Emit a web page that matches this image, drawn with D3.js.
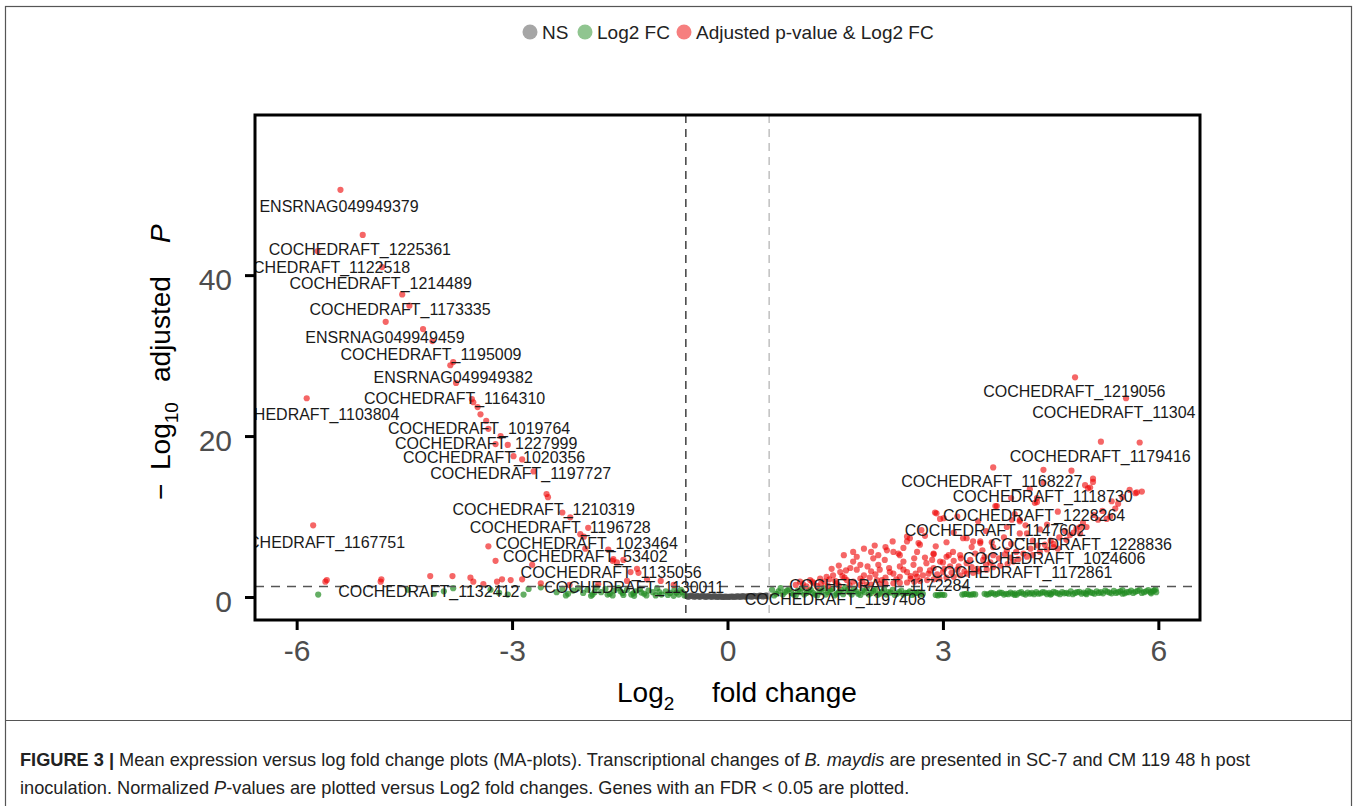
<!DOCTYPE html>
<html><head><meta charset="utf-8">
<script src="https://cdn.jsdelivr.net/npm/d3@7"></script>
<style>body{margin:0;background:#fff;} svg{display:block;font-family:"Liberation Sans",Arial,sans-serif;}</style>
</head><body>
<script>
// ---- data ----
const legendLabels = ["NS", "Log2 FC", "Adjusted p-value & Log2 FC"];
const xTicks = [-6, -3, 0, 3, 6];
const yTicks = [0, 20, 40];
const fcCutoff = 0.58;
const pCutoff = 1.3;

// NS points [log2FC, -log10 padj]
const nsPoints = [[-0.57,0.12],[-0.55,0.02],[-0.53,0.08],[-0.51,0.18],[-0.49,0.15],[-0.47,0.03],[-0.45,0.05],[-0.43,0.14],[-0.41,0.1],[-0.39,0.02],[-0.37,0.06],[-0.35,0.15],[-0.33,0.12],[-0.31,0.01],[-0.29,0.04],[-0.27,0.11],[-0.25,0.09],[-0.23,0.02],[-0.21,0.03],[-0.19,0.1],[-0.17,0.08],[-0.15,0.01],[-0.13,0.02],[-0.11,0.07],[-0.09,0.05],[-0.07,0.01],[-0.05,0.01],[-0.03,0.04],[-0.01,0.03],[0.01,0.01],[0.03,0.02],[0.05,0.06],[0.07,0.05],[0.09,0.01],[0.11,0.03],[0.13,0.08],[0.15,0.07],[0.17,0.02],[0.19,0.04],[0.21,0.1],[0.23,0.09],[0.25,0.03],[0.27,0.05],[0.29,0.12],[0.31,0.1],[0.33,0.04],[0.35,0.06],[0.37,0.13],[0.39,0.12],[0.41,0.05],[0.43,0.08],[0.45,0.16],[0.47,0.14],[0.49,0.06],[0.51,0.1],[0.53,0.18],[0.55,0.16],[0.57,0.08]];

// log2FC-only points
const fcPoints = [[-5.70,0.3],[-4.09,0.4],[-3.82,1.1],[-3.06,0.3],[-2.84,0.3],[-2.77,1.0],[-2.60,1.2],[-4.45,0.9],[-3.95,0.7],[-3.30,0.9],[-3.18,0.5],
[-2.38,0.6],[-2.30,1.0],[-2.22,0.4],[-2.15,0.8],[-2.08,1.1],[-2.01,0.5],[-1.95,0.9],[-1.88,0.3],[-1.82,1.2],[-1.76,0.6],[-1.70,1.0],[-1.64,0.4],[-1.58,0.8],[-1.52,1.1],[-1.46,0.5],[-1.40,0.9],[-1.34,0.3],[-1.28,0.7],[-1.22,1.0],[-1.16,0.4],[-1.10,0.8],[-1.04,0.6],[-0.98,1.1],[-0.92,0.3],[-0.86,0.7],[-0.80,0.5],[-0.74,0.9],[-0.68,0.3],[-0.63,0.6],[-0.60,0.2],[-1.9,0.15],[-1.6,0.2],[-1.3,0.15],[-1.0,0.2],[-0.75,0.15],
[-1.85,0.6],[-1.67,0.3],[-1.49,0.7],[-1.31,0.45],[-1.13,0.2],[-0.95,0.6],[-0.83,0.25],[-0.71,0.55],[-0.65,0.9],[-1.2,0.55],[-1.45,0.25],[-2.25,0.2],
[0.62,0.9],[0.68,0.4],[0.74,1.1],[0.80,0.6],[0.86,1.0],[0.92,0.3],[0.98,0.8],[1.04,1.1],[1.10,0.5],[1.16,0.9],[1.22,0.3],[1.28,0.8],[1.34,1.1],[1.40,0.6],[1.46,1.0],[1.52,0.4],[1.58,0.9],[1.64,1.2],[1.70,0.6],[1.76,1.0],[1.82,0.4],[1.88,0.8],[1.94,1.1],[2.00,0.5],[2.06,0.9],[2.12,0.4],[2.18,1.0],[2.24,0.6],[2.30,0.9],[2.36,0.4],[2.42,0.8],[2.48,0.5],[2.54,0.7],[2.60,0.4],[2.66,0.6],[2.72,0.4],
[0.65,0.2],[0.71,0.7],[0.77,0.3],[0.83,0.8],[0.89,0.5],[0.95,0.2],[1.01,0.6],[1.07,0.3],[1.13,0.7],[1.19,0.5],[1.25,0.2],[1.31,0.6],[1.37,0.3],[1.43,0.8],[1.49,0.2],[1.55,0.6],[1.61,0.35],[1.67,0.85],[1.73,0.3],[1.79,0.7],[1.85,0.25],[1.91,0.6],[1.97,0.3],[2.03,0.75],[2.09,0.25],[2.15,0.65],[2.21,0.3],[2.27,0.55],[2.33,0.25],[2.39,0.6],[2.45,0.3],[2.51,0.5],[2.57,0.25],[2.63,0.5],[2.69,0.3],
[2.90,0.25],[2.96,0.3],[3.02,0.25],[3.30,0.35],[3.36,0.3],[3.42,0.35],[3.58,0.4],[3.64,0.35],[3.70,0.45],[3.76,0.4],[3.82,0.5],[3.88,0.4],[3.94,0.55],[4.00,0.45],[4.06,0.5],[4.12,0.4],[4.18,0.55],[4.24,0.5],[4.30,0.6],[4.36,0.45],[4.42,0.55],[4.48,0.5],[4.54,0.65],[4.60,0.45],[4.66,0.6],[4.72,0.5],[4.78,0.7],[4.84,0.5],[4.90,0.65],[4.96,0.55],[5.02,0.75],[5.08,0.5],[5.14,0.7],[5.20,0.6],[5.26,0.8],[5.32,0.55],[5.38,0.75],[5.44,0.6],[5.50,0.85],[5.56,0.6],[5.62,0.8],[5.68,0.65],[5.74,0.9],[5.80,0.6],[5.86,0.85],[5.92,0.7],[5.96,0.95],[4.5,0.3],[5.0,0.35],[5.5,0.4],[5.9,0.45],[4.0,0.25],
[2.93,0.2],[2.99,0.28],[3.27,0.3],[3.33,0.38],[3.39,0.28],[3.45,0.32],[3.61,0.3],[3.67,0.5],[3.73,0.3],[3.79,0.55],[3.85,0.3],[3.91,0.35],[3.97,0.4],[4.03,0.3],[4.09,0.6],[4.15,0.3],[4.21,0.4],[4.27,0.35],[4.33,0.4],[4.39,0.6],[4.45,0.35],[4.51,0.4],[4.57,0.55],[4.63,0.35],[4.69,0.45],[4.75,0.4],[4.81,0.35],[4.87,0.6],[4.93,0.4],[4.99,0.45],[5.05,0.6],[5.11,0.4],[5.17,0.5],[5.23,0.45],[5.29,0.65],[5.35,0.45],[5.41,0.5],[5.47,0.7],[5.53,0.45],[5.59,0.6],[5.65,0.5],[5.71,0.75],[5.77,0.5],[5.83,0.7],[5.89,0.6],[5.94,0.8],[5.97,0.6]];

// adjusted p-value & log2FC points
const sigPoints = [
[-5.39,50.6],[-5.08,45.0],[-5.71,43.0],[-4.81,41.0],[-4.53,37.6],[-4.43,36.2],[-4.76,34.2],[-4.24,33.3],[-4.11,31.8],[-3.86,28.8],[-3.82,29.2],[-3.78,26.6],[-5.86,24.7],[-3.56,24.6],[-3.54,24.2],[-3.48,23.6],[-3.44,22.7],[-3.36,21.9],[-3.33,20.9],[-3.16,20.0],[-3.23,19.0],[-3.06,18.9],[-2.98,17.5],[-2.86,17.1],[-2.70,15.6],[-2.52,12.8],[-2.50,12.4],[-2.30,10.5],[-2.19,9.9],[-5.77,8.9],[-1.94,8.6],[-2.05,7.8],[-2.00,7.5],[-3.33,6.3],[-1.98,6.0],[-1.66,5.9],[-3.23,4.5],[-1.59,4.7],[-1.45,4.6],[-2.72,4.0],[-1.54,4.3],[-1.26,3.5],[-1.24,3.0],[-5.58,2.1],[-5.60,1.9],[-4.82,2.2],[-4.83,1.9],[-4.14,2.6],[-3.83,2.6],[-3.58,2.4],[-3.54,1.9],[-3.40,1.6],[-3.21,1.9],[-3.14,2.2],[-3.02,2.1],[-2.86,2.2],[-2.60,1.7],[-1.40,2.0],[-1.12,2.2],[-0.93,2.0],[-1.35,3.1],[-1.60,4.5],[-1.80,1.6],[-2.2,1.5],[-0.75,1.5],
[4.84,27.3],[5.55,24.7],[5.20,19.3],[5.74,19.2],[3.70,16.1],[4.40,15.8],[4.79,15.7],[5.09,14.7],[4.98,13.9],[5.05,13.6],[4.40,14.2],[4.21,13.4],[5.70,13.0],[5.77,13.1],[4.31,11.8],[3.75,11.3],[5.44,11.6],[5.40,11.0],[2.89,10.5],[2.96,9.7],[5.33,10.0],[5.28,9.7],[3.49,9.4],[3.96,9.6],[4.07,9.4],[4.86,8.5],[4.91,8.7],[4.77,7.7],[2.50,7.5],[2.66,6.7],[3.28,7.3],[3.42,6.9],[3.52,6.7],[4.07,7.9],[4.17,7.9],[4.54,6.6],[2.22,5.8],[2.38,5.4],[2.87,5.3],[3.08,5.2],
[5.68,12.9],[5.16,9.6],[5.00,8.7],[4.91,7.9],[4.72,7.1],[4.54,6.2],[4.35,5.6],[4.17,5.0],[3.98,4.4],[3.80,3.9],[3.61,3.4],[3.42,3.0],[3.24,2.7],[3.05,2.4],[2.87,2.2],[2.68,2.0],[2.50,1.8],[2.31,1.7],[2.12,1.6],[1.94,1.5],
[4.60,6.0],[4.45,5.9],[4.25,5.2],[4.05,4.7],[3.90,4.1],[3.70,3.7],[3.50,3.2],[3.33,2.9],[3.15,2.5],[2.95,2.3],[2.78,2.1],[2.60,1.9],[2.40,1.75],[2.20,1.65],[2.00,1.55],[1.85,1.5],[1.70,1.45],[1.55,1.4],[1.40,1.38],[1.25,1.35],[1.10,1.33],
[2.91,10.4],[3.01,9.8],[3.73,11.3],[4.28,11.7],[4.31,12.3],[5.02,13.5],[5.09,14.3],[4.07,9.6],[3.89,8.7],[3.52,6.9],[3.33,7.3],[2.68,6.5],[2.50,6.9],[2.54,7.3],[2.31,5.6],[2.40,5.2],[2.64,5.6],[2.87,5.4],[3.05,5.0],[3.14,5.6],[3.24,5.2],[2.96,4.4],[2.77,4.2],[2.59,4.0],[2.40,3.8],[2.19,4.6],[2.03,4.8],[1.95,3.8],[1.75,4.4],[1.71,3.6],[1.80,3.4],[1.57,3.1],[1.47,2.7],[1.38,2.5],[1.29,2.3],[1.15,2.1],[1.01,1.9],[2.12,3.4],[2.31,2.9],[2.50,3.1],[2.68,3.4],[2.87,3.6],[3.10,3.8],[3.33,4.2],[3.56,4.6],[3.70,5.2],[3.70,6.2],[3.89,5.8],[2.08,2.1],[1.85,2.3],[1.66,2.1],[2.40,2.5],[2.64,2.5],
[1.90,6.0],[2.05,6.4],[2.30,6.9],[2.75,7.6],[2.70,8.3],[3.15,8.0],[3.60,8.2],[3.85,7.4],[4.00,10.3],[4.45,9.0],[4.60,10.6],[3.20,10.0],[3.95,12.3],[1.60,2.6],[1.20,1.7],[0.95,1.5],[1.35,1.9],[1.50,2.0],[1.90,2.7],[2.20,2.4],[2.55,2.6],[2.80,2.9],[3.00,3.1],[3.20,3.4],[3.40,3.7],[3.60,4.0],[1.62,5.2],[1.80,5.0],[2.10,5.2],
[1.05,1.6],[1.18,1.9],[1.30,1.6],[1.42,2.2],[1.52,1.7],[1.63,2.4],[1.75,1.9],[1.88,2.0],[1.98,2.4],[2.06,2.8],[2.15,2.1],[2.26,3.1],[2.35,2.2],[2.45,3.4],[2.55,2.3],[2.62,2.9],[2.72,2.7],[2.82,3.3],[2.92,2.8],[3.02,3.5],[3.12,3.0],[3.22,3.8],[3.30,3.2],[3.38,4.6],[3.48,3.5],[3.58,5.0],[3.66,4.3],[3.78,4.8],[3.86,5.3],[3.94,4.9],[4.02,5.6],[4.12,5.4],[4.22,6.0],[4.32,6.4],[4.42,6.5],[4.50,7.0],[4.62,7.4],[4.70,8.2],[4.82,8.0],[4.95,9.2],[5.10,10.2],[5.22,10.7],[5.35,11.9],[5.50,12.4],[5.60,13.3],
[1.45,3.5],[1.55,3.9],[1.65,3.3],[1.85,4.0],[2.00,3.2],[2.10,4.0],[2.25,3.6],[2.45,4.4],[2.60,4.8],[2.75,4.9],[2.85,4.6],[3.00,4.3],[3.15,4.5],[3.25,4.8],[3.45,5.4],[3.55,5.8],[2.20,6.2],[2.45,6.1],[2.90,6.3],[3.05,6.8],[3.40,6.2],[3.68,6.8],[3.95,6.6],[4.25,7.0],[4.35,8.4],[4.15,8.9],[1.75,5.6],[2.00,5.6]];

const labelNames = ["ENSRNAG049949379","COCHEDRAFT_1225361","COCHEDRAFT_1122518","COCHEDRAFT_1214489","COCHEDRAFT_1173335","ENSRNAG049949459","COCHEDRAFT_1195009","ENSRNAG049949382","COCHEDRAFT_1164310","COCHEDRAFT_1103804","COCHEDRAFT_1019764","COCHEDRAFT_1227999","COCHEDRAFT_1020356","COCHEDRAFT_1197727","COCHEDRAFT_1210319","COCHEDRAFT_1196728","COCHEDRAFT_1167751","COCHEDRAFT_1023464","COCHEDRAFT_53402","COCHEDRAFT_1135056","COCHEDRAFT_1132412","COCHEDRAFT_1130011","COCHEDRAFT_1219056","COCHEDRAFT_11304","COCHEDRAFT_1179416","COCHEDRAFT_1168227","COCHEDRAFT_1118730","COCHEDRAFT_1228264","COCHEDRAFT_1147602","COCHEDRAFT_1228836","COCHEDRAFT_1024606","COCHEDRAFT_1172861","COCHEDRAFT_1172284","COCHEDRAFT_1197408"];
const labelX = [-5.41,-5.12,-5.68,-4.83,-4.56,-4.77,-4.13,-3.82,-3.80,-5.83,-3.46,-3.36,-3.25,-2.88,-2.56,-2.33,-5.75,-1.96,-1.98,-1.62,-4.16,-1.30,4.83,5.38,5.19,3.68,4.39,4.27,3.73,4.92,4.55,4.10,2.12,1.50];
const labelY = [48.6,43.2,41.0,39.0,35.7,32.3,30.1,27.3,24.7,22.7,21.0,19.1,17.3,15.3,10.9,8.7,6.8,6.7,5.0,3.0,0.75,1.24,25.6,23.0,17.5,14.4,12.5,10.1,8.3,6.5,4.8,3.1,1.5,-0.25];

// ---- drawing ----
const W = 1357, H = 806;
const svg = d3.select("body").append("svg").attr("width", W).attr("height", H);
const P = {l:255, r:1200, t:115, b:620};
const x = d3.scaleLinear().domain([-6.58, 6.58]).range([P.l, P.r]);
const y = d3.scaleLinear().domain([-2.86, 59.9]).range([P.b, P.t]);

// outer frame
svg.append("rect").attr("x",5.5).attr("y",6.5).attr("width",1346).attr("height",H+10)
  .attr("fill","none").attr("stroke","#555").attr("stroke-width",1.2);
svg.append("line").attr("x1",5).attr("x2",1352).attr("y1",720.5).attr("y2",720.5).attr("stroke","#555").attr("stroke-width",1.2);

// legend
const colors = {ns:"#4d4d4d", fc:"#228B22", sig:"#EE0000"};
const legColors = [colors.ns, colors.fc, colors.sig];
const legX = [530, 585, 684];
legendLabels.forEach((t,i)=>{
  svg.append("circle").attr("cx",legX[i]).attr("cy",32).attr("r",7.5).attr("fill",legColors[i]).attr("fill-opacity",0.5);
  svg.append("text").attr("x",legX[i]+12).attr("y",32).attr("dy","0.35em").attr("font-size",19).attr("fill","#222").text(t);
});

// clip
svg.append("clipPath").attr("id","clip").append("rect").attr("x",P.l).attr("y",P.t).attr("width",P.r-P.l).attr("height",P.b-P.t);
const g = svg.append("g").attr("clip-path","url(#clip)");

function drawPts(data, col, op){
  g.append("g").selectAll("circle").data(data).join("circle")
    .attr("cx",d=>x(d[0])).attr("cy",d=>y(d[1])).attr("r",3.1)
    .attr("fill",col).attr("fill-opacity",op);
}
drawPts(nsPoints, colors.ns, 0.75);
drawPts(fcPoints, colors.fc, 0.7);
drawPts(sigPoints, colors.sig, 0.6);

// cutoff lines
g.append("line").attr("x1",x(-fcCutoff)).attr("x2",x(-fcCutoff)).attr("y1",P.t).attr("y2",P.b)
  .attr("stroke","#333").attr("stroke-width",1.4).attr("stroke-dasharray","8,6");
g.append("line").attr("x1",x(fcCutoff)).attr("x2",x(fcCutoff)).attr("y1",P.t).attr("y2",P.b)
  .attr("stroke","#bbb").attr("stroke-width",1.4).attr("stroke-dasharray","8,6");
g.append("line").attr("x1",P.l).attr("x2",P.r).attr("y1",y(pCutoff)).attr("y2",y(pCutoff))
  .attr("stroke","#555").attr("stroke-width",1.4).attr("stroke-dasharray","9,7");

// labels
g.append("g").selectAll("text").data(labelNames).join("text")
  .attr("x",(d,i)=>x(labelX[i])).attr("y",(d,i)=>y(labelY[i])).attr("dy","0.35em")
  .attr("text-anchor","middle").attr("font-size",16).attr("fill","#1a1a1a").text(d=>d);

// panel border
svg.append("rect").attr("x",P.l).attr("y",P.t).attr("width",P.r-P.l).attr("height",P.b-P.t)
  .attr("fill","none").attr("stroke","#000").attr("stroke-width",3);

// axes
const xa = svg.append("g").attr("transform",`translate(0,${P.b})`)
  .call(d3.axisBottom(x).tickValues(xTicks).tickSize(10).tickPadding(10).tickFormat(d=>String(d)));
const ya = svg.append("g").attr("transform",`translate(${P.l},0)`)
  .call(d3.axisLeft(y).tickValues(yTicks).tickSize(10).tickPadding(13).tickFormat(d=>String(d)));
[xa,ya].forEach(a=>{
  a.select(".domain").remove();
  a.selectAll(".tick line").attr("stroke","#000").attr("stroke-width",3);
  a.selectAll(".tick text").attr("font-size",30).attr("fill","#4d4d4d").attr("font-family","Liberation Sans, Arial, sans-serif");
});
ya.selectAll(".tick text").attr("dy","0.48em");

// axis titles
const xt = svg.append("text").attr("x",617).attr("y",702).attr("font-size",28).attr("fill","#000");
xt.append("tspan").text("Log");
xt.append("tspan").attr("font-size",19).attr("dy",8).text("2");
xt.append("tspan").attr("dy",-8).attr("x",712).text("fold change");

const yt = svg.append("g").attr("transform","translate(170,0) rotate(-90)").append("text")
  .attr("x",-500).attr("y",0).attr("font-size",28).attr("fill","#000");
yt.append("tspan").text("\u2212");
yt.append("tspan").attr("x",-470).text("Log");
yt.append("tspan").attr("font-size",19).attr("dy",8).text("10");
yt.append("tspan").attr("dy",-8).attr("x",-382).text("adjusted");
yt.append("tspan").attr("x",-243).attr("font-style","italic").text("P");

// caption
const cap = svg.append("g").attr("font-size",18.2).attr("fill","#222");
const c1 = cap.append("text").attr("x",20).attr("y",766);
c1.append("tspan").attr("font-weight","bold").text("FIGURE 3 | ");
c1.append("tspan").text("Mean expression versus log fold change plots (MA-plots). Transcriptional changes of ");
c1.append("tspan").attr("font-style","italic").text("B. maydis");
c1.append("tspan").text(" are presented in SC-7 and CM 119 48 h post");
const c2 = cap.append("text").attr("x",20).attr("y",794);
c2.append("tspan").text("inoculation. Normalized ");
c2.append("tspan").attr("font-style","italic").text("P");
c2.append("tspan").text("-values are plotted versus Log2 fold changes. Genes with an FDR < 0.05 are plotted.");
</script>
</body></html>
